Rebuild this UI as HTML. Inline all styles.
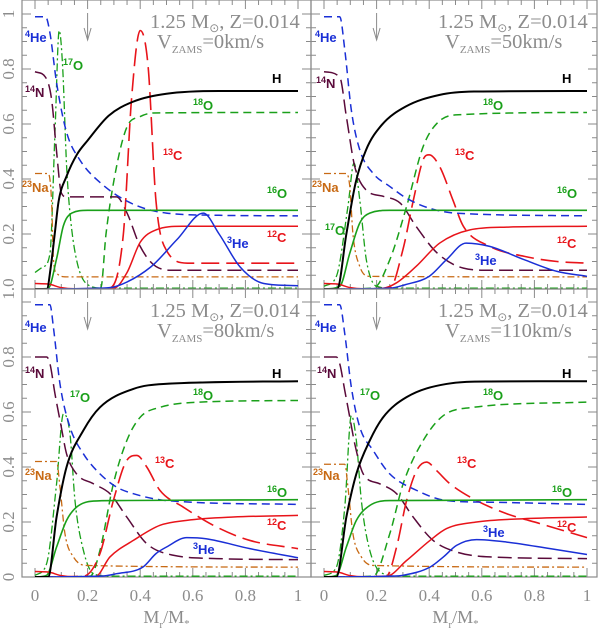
<!DOCTYPE html>
<html><head><meta charset="utf-8"><style>
html,body{margin:0;padding:0;background:#fff;}
svg{display:block;}
text{font-family:"Liberation Serif",serif;}
.lab{font-family:"Liberation Sans",sans-serif;font-weight:bold;font-size:13px;}
</style></head><body>
<svg id="chart" width="600" height="630" viewBox="0 0 600 630" xmlns="http://www.w3.org/2000/svg"></svg>
<script>
// ---- data: [x, y] pairs (Mr/M*, normalized abundance) ----
const v0_H=[[0,0],[0.045,0],[0.06,0.08],[0.075,0.2],[0.09,0.32],[0.12,0.41],[0.16,0.49],[0.2,0.54],[0.28,0.63],[0.37,0.68],[0.5,0.71],[0.7,0.72],[1,0.72]];
const v0_He4=[[0,0.99],[0.04,0.99],[0.057,0.93],[0.082,0.75],[0.12,0.57],[0.17,0.47],[0.25,0.385],[0.37,0.31],[0.5,0.276],[0.7,0.268],[1,0.266]];
const v0_He3=[[0,0],[0.25,0.003],[0.31,0.01],[0.44,0.08],[0.54,0.18],[0.64,0.276],[0.7,0.2],[0.78,0.08],[0.87,0.02],[1,0.012]];
const v0_C12=[[0,0.02],[0.05,0.018],[0.1,0.005],[0.15,0.001],[0.3,0.003],[0.35,0.06],[0.4,0.17],[0.46,0.215],[0.56,0.228],[1,0.228]];
const v0_C13=[[0,0],[0.28,0.003],[0.336,0.2],[0.367,0.69],[0.4,0.94],[0.43,0.81],[0.46,0.32],[0.5,0.14],[0.58,0.094],[1,0.094]];
const v0_N14=[[0,0.79],[0.04,0.77],[0.063,0.69],[0.082,0.5],[0.1,0.35],[0.12,0.335],[0.31,0.335],[0.35,0.276],[0.4,0.155],[0.46,0.082],[0.53,0.068],[1,0.068]];
const v0_O16=[[0,0],[0.05,0.002],[0.082,0.11],[0.108,0.23],[0.14,0.276],[0.2,0.286],[1,0.286]];
const v0_O17=[[0,0.06],[0.03,0.08],[0.057,0.13],[0.076,0.57],[0.092,0.94],[0.105,0.81],[0.12,0.45],[0.133,0.276],[0.158,0.106],[0.2,0.016],[0.26,0.003],[1,0.003]];
const v0_O18=[[0,0],[0.25,0.003],[0.27,0.2],[0.31,0.445],[0.35,0.59],[0.4,0.627],[0.45,0.64],[1,0.642]];
const v0_Na23=[[0,0.42],[0.05,0.42],[0.063,0.32],[0.07,0.11],[0.082,0.058],[0.12,0.044],[1,0.044]];

const v50_H=[[0,0],[0.05,0],[0.085,0.2],[0.12,0.385],[0.16,0.506],[0.22,0.597],[0.31,0.663],[0.44,0.706],[0.57,0.718],[1,0.72]];
const v50_He4=[[0,0.99],[0.06,0.99],[0.079,0.87],[0.104,0.65],[0.136,0.506],[0.187,0.42],[0.25,0.373],[0.314,0.33],[0.4,0.294],[0.5,0.276],[1,0.266]];
const v50_He3=[[0,0],[0.25,0.003],[0.31,0.016],[0.4,0.046],[0.466,0.107],[0.54,0.167],[0.63,0.155],[0.76,0.107],[0.886,0.064],[1,0.046]];
const v50_C12=[[0,0.02],[0.05,0.018],[0.1,0.005],[0.15,0.001],[0.22,0.002],[0.275,0.022],[0.35,0.082],[0.44,0.167],[0.555,0.215],[0.695,0.225],[1,0.228]];
const v50_C13=[[0,0],[0.25,0.003],[0.3,0.143],[0.34,0.324],[0.377,0.47],[0.4,0.488],[0.44,0.445],[0.49,0.324],[0.53,0.228],[0.63,0.155],[0.76,0.119],[0.886,0.1],[1,0.094]];
const v50_N14=[[0,0.79],[0.06,0.77],[0.085,0.627],[0.117,0.445],[0.16,0.36],[0.225,0.337],[0.29,0.312],[0.35,0.228],[0.43,0.131],[0.53,0.076],[0.63,0.068],[1,0.068]];
const v50_O16=[[0,0],[0.06,0.01],[0.098,0.13],[0.136,0.24],[0.174,0.276],[0.25,0.286],[1,0.286]];
const v50_O17=[[0,0.01],[0.047,0.046],[0.091,0.3],[0.114,0.458],[0.136,0.324],[0.161,0.106],[0.2,0.01],[0.26,0.003],[1,0.003]];
const v50_O18=[[0,0],[0.187,0.003],[0.25,0.106],[0.314,0.3],[0.377,0.518],[0.43,0.603],[0.5,0.633],[1,0.642]];
const v50_Na23=[[0,0.42],[0.085,0.42],[0.098,0.373],[0.11,0.2],[0.136,0.082],[0.174,0.046],[1,0.044]];

const v80_H=[[0,0],[0.05,0],[0.082,0.218],[0.12,0.4],[0.184,0.533],[0.247,0.617],[0.374,0.684],[0.488,0.702],[1,0.712]];
const v80_He4=[[0,0.99],[0.057,0.99],[0.07,0.908],[0.095,0.702],[0.133,0.545],[0.184,0.448],[0.247,0.375],[0.31,0.327],[0.374,0.303],[0.5,0.278],[1,0.264]];
const v80_He3=[[0,0],[0.25,0.003],[0.31,0.012],[0.41,0.036],[0.46,0.085],[0.5,0.109],[0.577,0.143],[0.65,0.139],[0.817,0.103],[1,0.07]];
const v80_C12=[[0,0.02],[0.05,0.018],[0.1,0.005],[0.15,0.001],[0.23,0.002],[0.285,0.073],[0.374,0.133],[0.475,0.188],[0.577,0.206],[0.754,0.218],[1,0.224]];
const v80_C13=[[0,0],[0.184,0.003],[0.247,0.085],[0.298,0.278],[0.349,0.424],[0.387,0.442],[0.425,0.4],[0.475,0.315],[0.564,0.254],[0.69,0.182],[0.817,0.133],[1,0.103]];
const v80_N14=[[0,0.8],[0.044,0.8],[0.057,0.775],[0.076,0.666],[0.1,0.545],[0.12,0.448],[0.158,0.375],[0.222,0.339],[0.285,0.303],[0.349,0.218],[0.425,0.121],[0.526,0.079],[0.69,0.067],[1,0.063]];
const v80_O16=[[0,0],[0.044,0.006],[0.082,0.109],[0.12,0.206],[0.158,0.254],[0.222,0.276],[0.31,0.278],[1,0.281]];
const v80_O17=[[0,0.006],[0.044,0.048],[0.082,0.339],[0.108,0.593],[0.133,0.52],[0.152,0.278],[0.184,0.097],[0.222,0.012],[0.28,0.003],[1,0.003]];
const v80_O18=[[0,0],[0.21,0.003],[0.247,0.097],[0.298,0.339],[0.349,0.496],[0.4,0.581],[0.475,0.617],[0.627,0.636],[1,0.642]];
const v80_Na23=[[0,0.42],[0.082,0.42],[0.095,0.327],[0.114,0.157],[0.146,0.073],[0.196,0.042],[1,0.036]];

const v110_H=[[0,0],[0.047,0],[0.085,0.218],[0.123,0.375],[0.174,0.496],[0.225,0.581],[0.314,0.654],[0.466,0.702],[0.63,0.711],[1,0.712]];
const v110_He4=[[0,0.99],[0.06,0.99],[0.079,0.884],[0.104,0.69],[0.136,0.545],[0.187,0.46],[0.25,0.375],[0.352,0.315],[0.466,0.278],[0.63,0.272],[1,0.264]];
const v110_He3=[[0,0],[0.25,0.003],[0.3,0.006],[0.403,0.036],[0.454,0.073],[0.504,0.115],[0.58,0.136],[0.695,0.127],[0.86,0.103],[1,0.082]];
const v110_C12=[[0,0.02],[0.05,0.018],[0.1,0.005],[0.15,0.001],[0.237,0.002],[0.314,0.06],[0.403,0.133],[0.466,0.176],[0.58,0.2],[0.758,0.212],[1,0.218]];
const v110_C13=[[0,0],[0.237,0.003],[0.276,0.109],[0.314,0.278],[0.352,0.387],[0.39,0.418],[0.428,0.387],[0.479,0.339],[0.58,0.278],[0.695,0.23],[0.822,0.194],[1,0.143]];
const v110_N14=[[0,0.8],[0.047,0.8],[0.06,0.775],[0.079,0.678],[0.098,0.581],[0.117,0.484],[0.149,0.375],[0.212,0.339],[0.276,0.303],[0.339,0.218],[0.415,0.133],[0.504,0.091],[0.63,0.073],[1,0.067]];
const v110_O16=[[0,0],[0.047,0.006],[0.085,0.109],[0.123,0.206],[0.174,0.26],[0.25,0.278],[1,0.281]];
const v110_O17=[[0,0.006],[0.047,0.036],[0.079,0.254],[0.104,0.587],[0.123,0.496],[0.142,0.278],[0.174,0.097],[0.225,0.012],[0.28,0.003],[1,0.003]];
const v110_O18=[[0,0],[0.187,0.003],[0.25,0.157],[0.301,0.339],[0.377,0.496],[0.454,0.587],[0.568,0.617],[1,0.636]];
const v110_Na23=[[0,0.41],[0.079,0.41],[0.091,0.327],[0.11,0.157],[0.142,0.073],[0.187,0.042],[1,0.036]];

const xTickLabels=["0","0.2","0.4","0.6","0.8","1"];
const xTickValues=[0,0.2,0.4,0.6,0.8,1];
const yTickValues=[0.2,0.4,0.6,0.8];
const yTickLabels=["0.2","0.4","0.6","0.8"];
const velocities=["0","50","80","110"];

const NS="http://www.w3.org/2000/svg";
const svg=document.getElementById('chart');
function mk(tag,attrs,parent){const e=document.createElementNS(NS,tag);for(const k in attrs)e.setAttribute(k,attrs[k]);(parent||svg).appendChild(e);return e;}

const panels=[
 {x0:35,y0:289,fl:22,fr:311,ft:0,fb:289,v:velocities[0],tag:'v0',data:{H:v0_H,He4:v0_He4,He3:v0_He3,C12:v0_C12,C13:v0_C13,N14:v0_N14,O16:v0_O16,O17:v0_O17,O18:v0_O18,Na23:v0_Na23},
  labels:{He4:[25,42],O17:[63,70],N14:[25,97],H:[272,83],O18:[193,110],C13:[163,160],Na23:[22,192],O16:[267,198],He3:[227,248],C12:[267,242]}},
 {x0:324,y0:289,fl:311,fr:597,ft:0,fb:289,v:velocities[1],tag:'v50',data:{H:v50_H,He4:v50_He4,He3:v50_He3,C12:v50_C12,C13:v50_C13,N14:v50_N14,O16:v50_O16,O17:v50_O17,O18:v50_O18,Na23:v50_Na23},
  labels:{He4:[315,42],N14:[316,88],H:[562,83],O18:[483,110],C13:[455,160],Na23:[312,192],O16:[557,198],O17:[325,235],C12:[557,248],He3:[475,265]}},
 {x0:35,y0:577,fl:22,fr:311,ft:289,fb:577,v:velocities[2],tag:'v80',data:{H:v80_H,He4:v80_He4,He3:v80_He3,C12:v80_C12,C13:v80_C13,N14:v80_N14,O16:v80_O16,O17:v80_O17,O18:v80_O18,Na23:v80_Na23},
  labels:{He4:[25,332],N14:[25,378],O17:[70,402],H:[272,378],O18:[193,400],C13:[155,468],Na23:[25,480],O16:[267,497],C12:[267,530],He3:[193,554]}},
 {x0:324,y0:577,fl:311,fr:597,ft:289,fb:577,v:velocities[3],tag:'v110',data:{H:v110_H,He4:v110_He4,He3:v110_He3,C12:v110_C12,C13:v110_C13,N14:v110_N14,O16:v110_O16,O17:v110_O17,O18:v110_O18,Na23:v110_Na23},
  labels:{He4:[315,332],N14:[317,378],O17:[360,400],H:[562,378],O18:[483,400],C13:[457,468],Na23:[313,480],O16:[552,497],C12:[557,532],He3:[483,537]}}
];
const XS=263, YS=275;
const styles={
 H:{c:'#000',w:2,d:''},He4:{c:'#1a2fd6',w:1.5,d:'8,5'},He3:{c:'#1a2fd6',w:1.5,d:''},
 C12:{c:'#e8141a',w:1.5,d:''},C13:{c:'#e8141a',w:1.6,d:'18,7'},N14:{c:'#5a0a3a',w:1.5,d:'14,6'},
 O16:{c:'#1aa01a',w:1.6,d:''},O17:{c:'#1aa01a',w:1.3,d:'8,3,2,3'},O18:{c:'#1aa01a',w:1.5,d:'8,5'},
 Na23:{c:'#c86a14',w:1.3,d:'7,3,2,3'}
};
const labText={H:['','H'],He4:['4','He'],He3:['3','He'],C12:['12','C'],C13:['13','C'],N14:['14','N'],O16:['16','O'],O17:['17','O'],O18:['18','O'],Na23:['23','Na']};

function monoPath(pts,fx,fy){
 const n=pts.length;const xs=pts.map(p=>fx(p[0])),ys=pts.map(p=>fy(p[1]));
 const dx=[],m=[],t=[];
 for(let i=0;i<n-1;i++){dx[i]=xs[i+1]-xs[i];m[i]=(ys[i+1]-ys[i])/(dx[i]||1e-6);}
 t[0]=m[0];t[n-1]=m[n-2];
 for(let i=1;i<n-1;i++){t[i]=(m[i-1]*m[i]<=0)?0:(m[i-1]+m[i])/2;}
 for(let i=0;i<n-1;i++){if(m[i]===0){t[i]=0;t[i+1]=0;continue;}
  const a=t[i]/m[i],b=t[i+1]/m[i],s=a*a+b*b;if(s>9){const k=3/Math.sqrt(s);t[i]=k*a*m[i];t[i+1]=k*b*m[i];}}
 let d='M'+xs[0].toFixed(2)+','+ys[0].toFixed(2);
 for(let i=0;i<n-1;i++){const h=dx[i]/3;
  d+=' C'+(xs[i]+h).toFixed(2)+','+(ys[i]+h*t[i]).toFixed(2)+' '+(xs[i+1]-h).toFixed(2)+','+(ys[i+1]-h*t[i+1]).toFixed(2)+' '+xs[i+1].toFixed(2)+','+ys[i+1].toFixed(2);}
 return d;
}

const defs=mk('defs',{});
panels.forEach((p,pi)=>{
 const fx=v=>p.x0+v*XS, fy=v=>p.y0-v*YS;
 const g=mk('g',{});
 
 
 const cp=mk('clipPath',{id:'clip'+pi},defs);
 mk('rect',{x:p.fl,y:p.ft,width:p.fr-p.fl,height:p.fb-p.ft},cp);
 const fr=mk('rect',{x:p.fl,y:p.ft,width:p.fr-p.fl,height:p.fb-p.ft,fill:'none',stroke:'#8a8a8a','stroke-width':1.2},g);
 
 
 const tg=mk('g',{stroke:'#8a8a8a','stroke-width':1},g);
 
 
 for(let k=0;k<=20;k++){const v=k*0.05;const X=fx(v);const L=(k%4===0)?9:5;
  mk('line',{x1:X,y1:p.fb,x2:X,y2:p.fb-L},tg);mk('line',{x1:X,y1:p.ft,x2:X,y2:p.ft+L},tg);
  const Y=fy(v);if(Y>=p.ft&&Y<=p.fb){mk('line',{x1:p.fl,y1:Y,x2:p.fl+L,y2:Y},tg);mk('line',{x1:p.fr,y1:Y,x2:p.fr-L,y2:Y},tg);}}
 const cg=mk('g',{'clip-path':'url(#clip'+pi+')'},g);
 const order=['O17','Na23','O18','N14','C13','He4','O16','C12','He3','H'];
 order.forEach(sp=>{const s=styles[sp];
  const path=mk('path',{d:monoPath(p.data[sp],fx,fy),fill:'none',stroke:s.c,'stroke-width':s.w,'stroke-dasharray':s.d,'stroke-linejoin':'round'},cg);
  
  
 });
 for(const sp in p.labels){const [lx,ly]=p.labels[sp];const lt=labText[sp];
  const t=mk('text',{x:lx,y:ly,class:'lab',fill:styles[sp].c},g);
  
  
  if(lt[0]){const s1=mk('tspan',{'font-size':9,dy:-5},t);s1.textContent=lt[0];const s2=mk('tspan',{dy:5},t);s2.textContent=lt[1];}
  else t.textContent=lt[1];
 }
 const tx=pi%2===0?150:438, ty=p.ft+28;
 const t1=mk('text',{x:tx,y:ty,fill:'#8c8c8c','font-size':20.5},g);
 
 
 t1.appendChild(document.createTextNode('1.25 M'));
 const sun=mk('tspan',{'font-size':12,dy:4},t1);sun.textContent='⊙';
 const r1=mk('tspan',{dy:-4},t1);r1.textContent=', Z=0.014';
 const t2=mk('text',{x:tx+7,y:ty+20,fill:'#8c8c8c','font-size':20.5},g);
 
 
 t2.appendChild(document.createTextNode('V'));
 const sb=mk('tspan',{'font-size':11,dy:5},t2);sb.textContent='ZAMS';
 const r2=mk('tspan',{dy:-5},t2);r2.textContent='='+p.v+'km/s';
 const ax=fx(0.2);
 const ag=mk('g',{stroke:'#8a8a8a','stroke-width':1,fill:'none'},g);
 
 
 mk('line',{x1:ax,y1:p.ft+13,x2:ax,y2:p.ft+40},ag);
 mk('polyline',{points:(ax-3.5)+','+(p.ft+28)+' '+ax+','+(p.ft+40)+' '+(ax+3.5)+','+(p.ft+28)},ag);
 if(pi%2===0){
  const vals=yTickValues.slice();const labs=yTickLabels.slice();
  if(pi===0){vals.push(1);labs.push('1');}
  vals.forEach((v,i)=>{const Y=fy(v);
   const yt=mk('text',{x:14,y:Y,fill:'#8c8c8c','font-size':17,'text-anchor':'middle',transform:'rotate(-90 14 '+Y+')'},g);
   
   
   yt.textContent=labs[i];});
  const zt=mk('text',{x:14,y:fy(0),fill:'#8c8c8c','font-size':17,'text-anchor':'middle',transform:'rotate(-90 14 '+fy(0)+')'},g);
  
  
  zt.textContent=pi===0?'1.0':'0';
 }
 if(pi>=2){
  xTickValues.forEach((v,i)=>{const xt=mk('text',{x:fx(v),y:601,fill:'#8c8c8c','font-size':17,'text-anchor':'middle'},g);
   
   
   xt.textContent=xTickLabels[i];});
  const xa=mk('text',{x:fx(0.5),y:623,fill:'#8c8c8c','font-size':18,'text-anchor':'middle'},g);
  
  
  xa.appendChild(document.createTextNode('M'));
  const sr=mk('tspan',{'font-size':11,dy:5},xa);sr.textContent='r';
  const sm=mk('tspan',{dy:-5},xa);sm.textContent='/M';
  const ss=mk('tspan',{'font-size':11,dy:4},xa);ss.textContent='*';
 }
});
</script>
</body></html>
